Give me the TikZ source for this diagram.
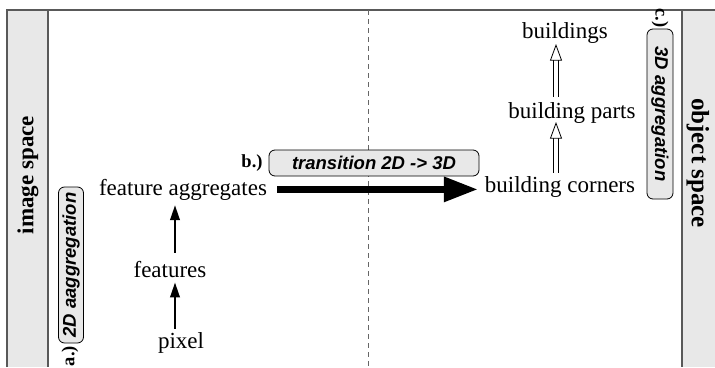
\documentclass[tikz,border=0pt]{standalone}
\usepackage{fontspec}
\setmainfont{Liberation Serif}
\setsansfont{Liberation Sans}
\usetikzlibrary{arrows.meta,calc}
\begin{document}
\begin{tikzpicture}[x=1pt,y=-1pt,
  panelgray/.style={fill=black!9},
  frame/.style={draw=black!65, line width=1.3pt},
  divider/.style={draw=black!60, line width=0.9pt, dash pattern=on 5pt off 4pt},
  lbl/.style={inner sep=0pt, anchor=base, font=\fontsize{23}{27}\selectfont},
  spacelbl/.style={inner sep=0pt, font=\bfseries\fontsize{23}{27}\selectfont},
  tag/.style={inner sep=0pt, font=\bfseries\fontsize{18.5}{22}\selectfont},
  boxlbl/.style={draw=black, line width=0.8pt, rounded corners=6pt, fill=black!9,
     inner sep=0pt, font=\sffamily\bfseries\itshape\fontsize{18.5}{22}\selectfont},
  thinarrow/.style={line width=2.2pt, -{Triangle[length=15pt,width=9.5pt]}},
  hshaft/.style={draw=black, double=white, double distance=3.6pt, line width=0.8pt},
  hhead/.style={draw=black, fill=white, line width=0.8pt, line join=miter},
  bigarrow/.style={line width=6.5pt, -{Triangle[length=34pt,width=24pt]}}
]
\useasboundingbox (0,0) rectangle (715,367);
% panels
\fill[panelgray] (7,10) rectangle (48,367);
\fill[panelgray] (682,10) rectangle (715,367);
\draw[frame] (7,367) -- (7,10) -- (715,10);
\draw[frame] (48,10) -- (48,367);
\draw[frame] (682,10) -- (682,367);
\draw[divider] (368,10) -- (368,367);

\node[spacelbl, rotate=90] (is) at (28,175) {image space};
\node[spacelbl, rotate=-90, font=\bfseries\fontsize{25}{29}\selectfont] (os) at (698,163) {object space};

% image side
\node[lbl] (fa) at (183,195) {feature aggregates};
\node[lbl] (feat) at (170,277) {features};
\node[lbl] (pix) at (181,348) {pixel};
\draw[thinarrow, shorten <=8pt, shorten >=5pt] (feat.north -| 175,0) -- (fa.south -| 175,0);
\draw[thinarrow, shorten <=3pt, shorten >=5pt] (pix.north -| 175,0) -- (feat.south -| 175,0);

% object side
\node[lbl] (bldg) at (565,38) {buildings};
\node[lbl] (bp) at (572,118) {building parts};
\node[lbl] (bc) at (560,192) {building corners};

\coordinate (t1) at ($(bldg.south -| 556,0)+(0,2)$);
\coordinate (s1) at ($(bp.north -| 556,0)+(0,-5)$);
\draw[hshaft] (s1) -- ($(t1)+(0,14)$);
\draw[hhead] (t1) -- ++(-5.5,15) -- ++(11,0) -- cycle;

\coordinate (t2) at ($(bp.south -| 556,0)+(0,0)$);
\coordinate (s2) at ($(bc.north -| 556,0)+(0,-3)$);
\draw[hshaft] (s2) -- ($(t2)+(0,14)$);
\draw[hhead] (t2) -- ++(-5.5,15) -- ++(11,0) -- cycle;

% transition
\draw[bigarrow] ($(fa.east)+(10,0)$) -- ($(fa.east -| bc.west)+(-7,0)$);

% labels
\node[boxlbl, rotate=90, minimum width=156pt, minimum height=25pt] (b2d) at (71,265) {2D aaggregation};
\node[tag, rotate=90] (la) at (70,356) {a.)};
\node[boxlbl, rotate=-90, minimum width=170pt, minimum height=26pt] (b3d) at (660,114) {3D aggregation};
\node[tag, rotate=-90] (lc) at (660,18) {c.)};
\node[boxlbl, minimum width=210pt, minimum height=26pt] (btr) at (374,163) {transition 2D -> 3D};
\node[tag] (lb) at (252,163) {b.)};
\end{tikzpicture}
\end{document}
